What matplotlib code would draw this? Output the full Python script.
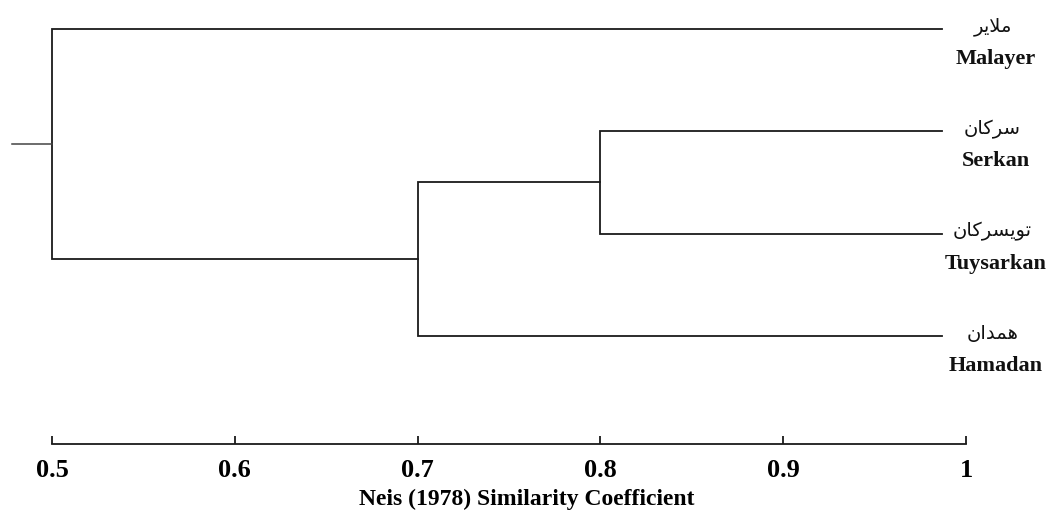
import matplotlib
matplotlib.use('Agg')
from matplotlib import pyplot as plt

# leaves, top to bottom
names_en = ['Malayer', 'Serkan', 'Tuysarkan', 'Hamadan']
# Persian names written with presentation forms, in visual (left-to-right) order
names_fa = ['\uFEAE\uFEF3\uFEFC\uFEE3',                      # ملایر
            '\uFEE5\uFE8E\uFEDB\uFEAE\uFEB3',                # سرکان
            '\uFEE5\uFE8E\uFEDB\uFEAE\uFEB4\uFEF3\uFEEE\uFE97',  # تویسرکان
            '\uFEE5\uFE8D\uFEAA\uFEE4\uFEEB']                # همدان
# merges: (child a, child b, similarity); nodes 0-3 are leaves, 4.. are clusters
merges = [(1, 2, 0.8), (4, 3, 0.7), (0, 5, 0.5)]
leaf_sim = 0.987
ticks = [0.5, 0.6, 0.7, 0.8, 0.9, 1.0]
tick_labels = ['0.5', '0.6', '0.7', '0.8', '0.9', '1']

plt.rcParams['font.family'] = ['Liberation Serif', 'DejaVu Sans']

fig = plt.figure(figsize=(10.54, 5.16), dpi=100)
ax = fig.add_axes([0, 0.1395, 1, 0.8605])

lc = '#1a1a1a'
pos = {i: (leaf_sim, float(i)) for i in range(len(names_en))}
for k, (a, b, s) in enumerate(merges):
    xa, ya = pos[a]
    xb, yb = pos[b]
    ax.plot([xa, s, s, xb], [ya, ya, yb, yb], color=lc, lw=1.3,
            solid_joinstyle='miter')
    pos[len(names_en) + k] = (s, (ya + yb) / 2)

# root stub
rx, ry = pos[len(names_en) + len(merges) - 1]
ax.plot([rx - 0.022, rx], [ry, ry], color='#444444', lw=1.1)

for i, (en, fa) in enumerate(zip(names_en, names_fa)):
    ax.text(1.0145, i - 0.02, fa, ha='center', va='center', fontsize=14,
            family=['DejaVu Sans'], color='#111111')
    ax.text(1.0164, i + 0.293, en, ha='center', va='center', fontsize=16,
            weight='bold', color='#111111')

ax.set_xlim(0.47155, 1.04814)
ax.set_ylim(4.057, -0.2835)
for side in ['top', 'right', 'left']:
    ax.spines[side].set_visible(False)
ax.spines['bottom'].set_bounds(0.5, 1.0)
ax.spines['bottom'].set_linewidth(1.3)
ax.spines['bottom'].set_color(lc)
ax.set_yticks([])
ax.set_xticks(ticks)
ax.set_xticklabels(tick_labels, fontsize=19, weight='bold')
ax.tick_params(axis='x', direction='in', length=6, width=1.3,
               color=lc, pad=11)
ax.set_xlabel('Neis (1978) Similarity Coefficient', fontsize=17,
              weight='bold', labelpad=5)

plt.savefig('out.png', dpi=100)
